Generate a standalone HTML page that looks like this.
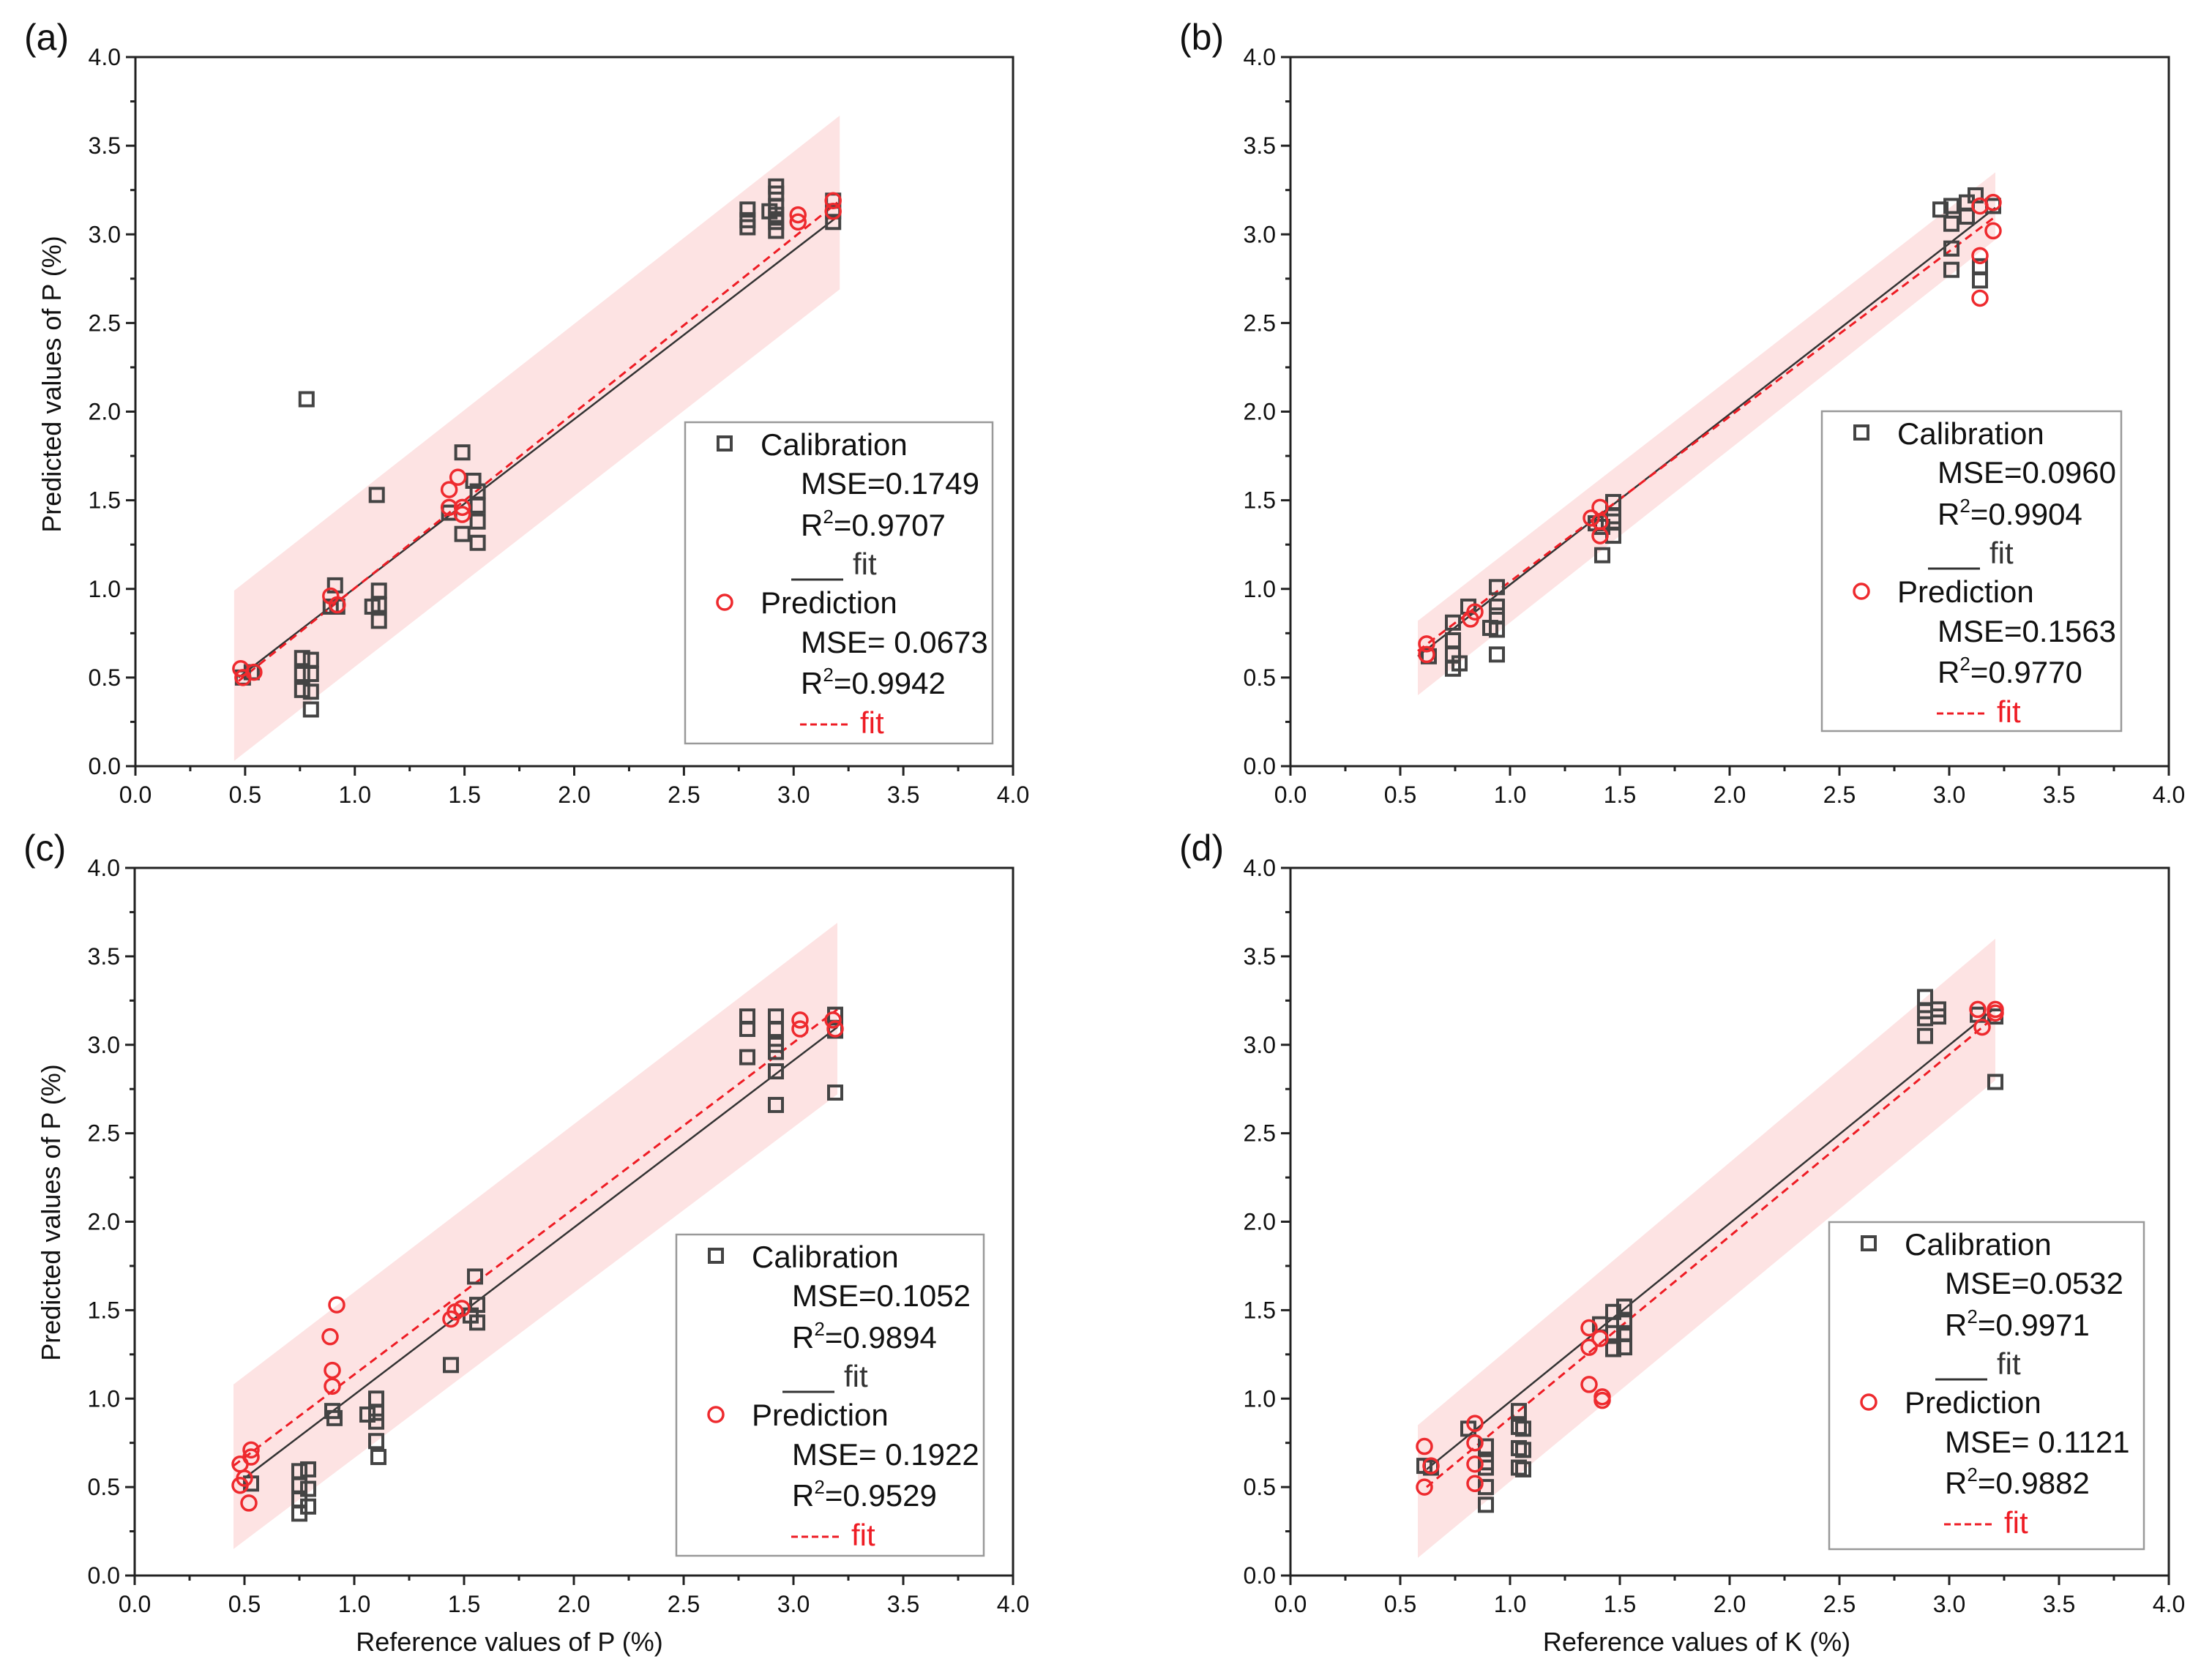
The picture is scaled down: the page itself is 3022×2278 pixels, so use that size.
<!DOCTYPE html>
<html><head><meta charset="utf-8"><style>
html,body{margin:0;padding:0;background:#fff;}
svg{display:block;font-family:"Liberation Sans",Arial,sans-serif;}
</style></head><body>
<svg id="fig" width="3022" height="2278" viewBox="0 0 3022 2278" xmlns="http://www.w3.org/2000/svg"></svg>
<script>
const xTicks = [0.0,0.5,1.0,1.5,2.0,2.5,3.0,3.5,4.0];
const yTicks = [0.0,0.5,1.0,1.5,2.0,2.5,3.0,3.5,4.0];
const tickLabels = ["0.0","0.5","1.0","1.5","2.0","2.5","3.0","3.5","4.0"];

// Panel (a)
const aCalX = [2.79,2.79,2.79,2.92,2.92,2.92,2.92,2.92,2.92,2.89,3.18,3.18,3.18,0.78,1.10,1.49,1.54,1.56,1.56,1.56,1.56,1.49,1.43,0.91,0.89,0.92,1.11,1.08,1.11,1.11,0.76,0.80,0.76,0.80,0.76,0.80,0.80,0.53,0.49];
const aCalY = [3.14,3.08,3.04,3.27,3.23,3.16,3.11,3.07,3.02,3.13,3.19,3.13,3.07,2.07,1.53,1.77,1.61,1.55,1.47,1.38,1.26,1.31,1.43,1.02,0.90,0.90,0.99,0.90,0.91,0.82,0.61,0.60,0.52,0.52,0.43,0.42,0.32,0.53,0.50];
const aPredX = [0.48,0.49,0.54,0.89,0.92,1.43,1.47,1.43,1.49,1.49,3.02,3.02,3.18,3.18];
const aPredY = [0.55,0.50,0.53,0.96,0.91,1.56,1.63,1.46,1.46,1.42,3.11,3.07,3.19,3.13];
const aBand = [0.45,0.99,0.03,3.21,3.67,2.69];
const aCalFit = [0.47,0.50,3.20,3.10];
const aPredFit = [0.47,0.48,3.20,3.18];
const aLegend = ["MSE=0.1749","0.9707","MSE= 0.0673","0.9942"];

// Panel (b)
const bCalX = [3.01,3.01,3.01,3.01,3.08,3.08,3.12,3.14,3.14,3.20,2.96,1.42,1.42,1.47,1.47,1.47,1.47,1.39,0.94,0.94,0.94,0.94,0.94,0.91,0.81,0.74,0.74,0.74,0.74,0.77,0.63];
const bCalY = [3.16,3.06,2.92,2.80,3.18,3.10,3.22,2.82,2.74,3.16,3.14,1.19,1.35,1.49,1.41,1.30,1.38,1.37,1.01,0.90,0.85,0.77,0.63,0.78,0.90,0.81,0.71,0.63,0.55,0.58,0.62];
const bPredX = [0.62,0.62,0.82,0.84,1.41,1.41,1.41,1.37,3.14,3.14,3.14,3.20,3.20];
const bPredY = [0.69,0.63,0.83,0.87,1.46,1.30,1.38,1.40,3.16,2.88,2.64,3.18,3.02];
const bBand = [0.58,0.82,0.40,3.21,3.35,2.97];
const bCalFit = [0.58,0.62,3.21,3.15];
const bPredFit = [0.58,0.65,3.21,3.10];
const bLegend = ["MSE=0.0960","0.9904","MSE=0.1563","0.9770"];

// Panel (c)
const cCalX = [2.79,2.79,2.79,2.92,2.92,2.92,2.92,2.92,2.92,3.19,3.19,3.19,1.55,1.56,1.56,1.53,1.44,1.10,1.10,1.10,1.10,1.11,1.06,0.90,0.91,0.75,0.79,0.75,0.79,0.75,0.75,0.79,0.53];
const cCalY = [3.16,3.09,2.93,3.16,3.09,3.00,2.96,2.85,2.66,3.17,3.08,2.73,1.69,1.53,1.43,1.47,1.19,1.00,0.92,0.87,0.76,0.67,0.91,0.93,0.89,0.59,0.60,0.51,0.49,0.43,0.35,0.39,0.52];
const cPredX = [0.48,0.53,0.50,0.48,0.52,0.53,0.89,0.92,0.90,0.90,1.44,1.46,1.49,3.03,3.03,3.18,3.19];
const cPredY = [0.63,0.71,0.55,0.51,0.41,0.67,1.35,1.53,1.16,1.07,1.45,1.49,1.51,3.14,3.09,3.14,3.09];
const cBand = [0.45,1.08,0.15,3.20,3.69,2.72];
const cCalFit = [0.50,0.55,3.20,3.10];
const cPredFit = [0.45,0.62,3.20,3.20];
const cLegend = ["MSE=0.1052","0.9894","MSE= 0.1922","0.9529"];

// Panel (d)
const dCalX = [2.89,2.89,2.89,2.89,2.95,2.95,3.21,3.21,3.13,1.47,1.52,1.52,1.52,1.52,1.47,1.47,1.41,1.04,1.04,1.06,1.04,1.06,1.04,1.06,0.81,0.89,0.89,0.89,0.89,0.89,0.61,0.64];
const dCalY = [3.27,3.19,3.15,3.05,3.20,3.16,3.16,2.79,3.17,1.49,1.52,1.43,1.37,1.29,1.28,1.37,1.42,0.93,0.84,0.83,0.72,0.71,0.61,0.60,0.83,0.73,0.64,0.61,0.50,0.40,0.62,0.61];
const dPredX = [0.61,0.61,0.64,0.84,0.84,0.84,0.84,1.36,1.36,1.36,1.41,1.42,1.42,3.13,3.15,3.21,3.21];
const dPredY = [0.73,0.50,0.62,0.86,0.75,0.63,0.52,1.40,1.29,1.08,1.34,1.01,0.99,3.20,3.10,3.20,3.18];
const dBand = [0.58,0.85,0.10,3.21,3.60,2.80];
const dCalFit = [0.62,0.60,3.20,3.20];
const dPredFit = [0.62,0.50,3.20,3.15];
const dLegend = ["MSE=0.0532","0.9971","MSE= 0.1121","0.9882"];

const NS = "http://www.w3.org/2000/svg";
const svg = document.getElementById('fig');
function mk(tag, attrs, parent){
  const e = document.createElementNS(NS, tag);
  for (const k in attrs) e.setAttribute(k, attrs[k]);
  (parent||svg).appendChild(e);
  return e;
}

function panel(key, L, T, W, H, calX, calY, predX, predY, band, calFit, predFit, leg, legBox, yTitle, xTitle, yTitleY, xTitleX){
  const g = mk('g', {});
  
  
  const sx = v => L + v / 4 * W;
  const sy = v => T + H - v / 4 * H;

  // band
  const bandEl = mk('polygon', {points: [sx(band[0])+','+sy(band[1]), sx(band[3])+','+sy(band[4]), sx(band[3])+','+sy(band[5]), sx(band[0])+','+sy(band[2])].join(' '), fill:'#fde3e3'}, g);
  
  

  // fit lines
  const cf = mk('line', {x1:sx(calFit[0]), y1:sy(calFit[1]), x2:sx(calFit[2]), y2:sy(calFit[3]), stroke:'#333', 'stroke-width':2.5}, g);
  
  
  const pf = mk('line', {x1:sx(predFit[0]), y1:sy(predFit[1]), x2:sx(predFit[2]), y2:sy(predFit[3]), stroke:'#ee1c24', 'stroke-width':3, 'stroke-dasharray':'11,7'}, g);
  
  

  // calibration squares
  for (let i = 0; i < calX.length; i++){
    const r = mk('rect', {x:sx(calX[i])-9, y:sy(calY[i])-9, width:18, height:18, fill:'none', stroke:'#444', 'stroke-width':4}, g);
    
    
  }
  // prediction circles
  for (let i = 0; i < predX.length; i++){
    const c = mk('circle', {cx:sx(predX[i]), cy:sy(predY[i]), r:10, fill:'none', stroke:'#ee2a2e', 'stroke-width':3.5}, g);
    
    
  }

  // axes frame
  const fr = mk('rect', {x:L, y:T, width:W, height:H, fill:'none', stroke:'#222', 'stroke-width':3}, g);
  
  

  // ticks
  for (let i = 0; i < xTicks.length; i++){
    const x = sx(xTicks[i]);
    mk('line', {x1:x, y1:T+H, x2:x, y2:T+H+13, stroke:'#222', 'stroke-width':3}, g);
    const t = mk('text', {x:x, y:T+H+50, 'font-size':32, 'text-anchor':'middle', fill:'#111'}, g);
    t.textContent = tickLabels[i];
    
    
    if (i < xTicks.length-1){
      const xm = sx(xTicks[i]+0.25);
      mk('line', {x1:xm, y1:T+H, x2:xm, y2:T+H+7, stroke:'#222', 'stroke-width':3}, g);
    }
  }
  for (let i = 0; i < yTicks.length; i++){
    const y = sy(yTicks[i]);
    mk('line', {x1:L, y1:y, x2:L-13, y2:y, stroke:'#222', 'stroke-width':3}, g);
    const t = mk('text', {x:L-20, y:y+11, 'font-size':32, 'text-anchor':'end', fill:'#111'}, g);
    t.textContent = tickLabels[i];
    
    
    if (i < yTicks.length-1){
      const ym = sy(yTicks[i]+0.25);
      mk('line', {x1:L, y1:ym, x2:L-7, y2:ym, stroke:'#222', 'stroke-width':3}, g);
    }
  }

  // panel label
  const pl = mk('text', {x:L-152, y:T-10, 'font-size':50, fill:'#111'}, g);
  pl.textContent = '(' + key + ')';
  
  

  if (yTitle){
    const yt = mk('text', {x:0, y:0, 'font-size':36, 'text-anchor':'middle', fill:'#111', transform:'translate(' + (L-102) + ',' + yTitleY + ') rotate(-90)'}, g);
    yt.textContent = yTitle;
    
    
  }
  if (xTitle){
    const xt = mk('text', {x:xTitleX, y:T+H+103, 'font-size':36, 'text-anchor':'middle', fill:'#111'}, g);
    xt.textContent = xTitle;
    
    
  }

  // legend
  const lx = legBox[0], ly = legBox[1];
  const lg = mk('g', {}, g);
  
  
  mk('rect', {x:lx, y:ly, width:legBox[2], height:legBox[3], fill:'#fff', stroke:'#999', 'stroke-width':2.5}, lg);
  mk('rect', {x:lx+45, y:ly+20, width:18, height:18, fill:'none', stroke:'#444', 'stroke-width':4}, lg);
  mk('circle', {cx:lx+54, cy:ly+246, r:10, fill:'none', stroke:'#ee2a2e', 'stroke-width':3.5}, lg);
  const rows = [
    [lx+103, ly+45, 'Calibration', '#111', null],
    [lx+158, ly+98, leg[0], '#111', null],
    [lx+158, ly+155, 'R', '#111', leg[1]],
    [lx+229, ly+208, 'fit', '#333', null],
    [lx+103, ly+261, 'Prediction', '#111', null],
    [lx+158, ly+315, leg[2], '#111', null],
    [lx+158, ly+371, 'R', '#111', leg[3]],
    [lx+239, ly+425, 'fit', '#ee1c24', null]
  ];
  for (const r of rows){
    const t = mk('text', {x:r[0], y:r[1], 'font-size':42, fill:r[3]}, lg);
    if (r[4]){
      t.textContent = 'R';
      const s = mk('tspan', {'font-size':26, dy:-17}, t); s.textContent = '2';
      const v = mk('tspan', {dy:17}, t); v.textContent = '=' + r[4];
    } else t.textContent = r[2];
    
    
  }
  mk('line', {x1:lx+145, y1:ly+215, x2:lx+216, y2:ly+215, stroke:'#333', 'stroke-width':3}, lg);
  mk('line', {x1:lx+157, y1:ly+413, x2:lx+227, y2:ly+413, stroke:'#ee1c24', 'stroke-width':3, 'stroke-dasharray':'9,5'}, lg);
}

panel('a', 185, 78, 1199, 969, aCalX, aCalY, aPredX, aPredY, aBand, aCalFit, aPredFit, aLegend, [936,577,420,439], 'Predicted values of P (%)', null, 525, 0);
panel('b', 1763, 78, 1200, 969, bCalX, bCalY, bPredX, bPredY, bBand, bCalFit, bPredFit, bLegend, [2489,562,409,437], null, null, 0, 0);
panel('c', 184, 1186, 1200, 967, cCalX, cCalY, cPredX, cPredY, cBand, cCalFit, cPredFit, cLegend, [924,1687,420,439], 'Predicted values of P (%)', 'Reference values of P (%)', 1657, 696);
panel('d', 1763, 1186, 1200, 967, dCalX, dCalY, dPredX, dPredY, dBand, dCalFit, dPredFit, dLegend, [2499,1670,430,447], null, 'Reference values of K (%)', 0, 2318);
</script>
</body></html>
